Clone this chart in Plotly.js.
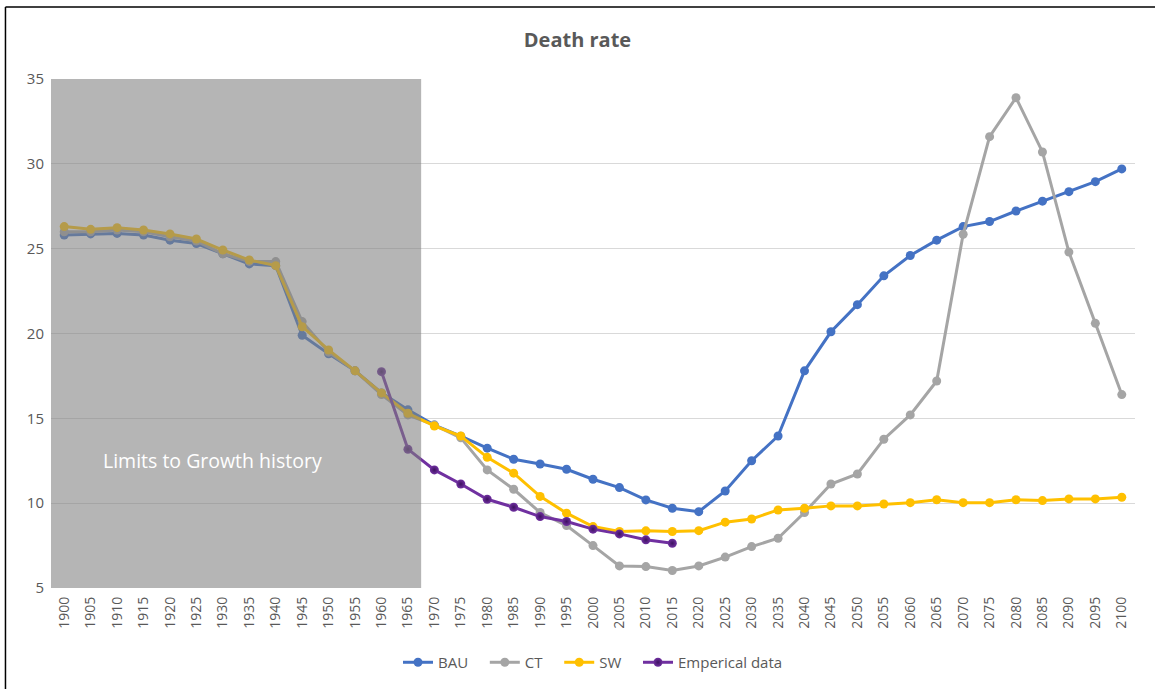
<!DOCTYPE html>
<html>
<head>
<meta charset="utf-8">
<script src="https://cdn.plot.ly/plotly-3.0.1.min.js"></script>
<style>html,body{margin:0;padding:0;background:#fff;}#chart{width:1155px;height:689px;}</style>
</head>
<body>
<div id="chart"></div>
<script>
var years = [];
for (var y = 1900; y <= 2100; y += 5) years.push(y);

var BAU = [25.8, 25.87, 25.9, 25.8, 25.5, 25.3, 24.7, 24.1, 24.0, 19.9, 18.8, 17.8, 16.5, 15.5,
  14.6, 13.95, 13.24, 12.59, 12.31, 12.0, 11.41, 10.92, 10.19, 9.7, 9.5,
  10.72, 12.5, 13.96, 17.8, 20.1, 21.7, 23.4, 24.6, 25.5, 26.3, 26.6, 27.22, 27.8, 28.36, 28.95, 29.7];
var CT = [26.0, 26.0, 26.1, 26.0, 25.7, 25.45, 24.7, 24.25, 24.24, 20.7, 18.9, 17.8, 16.4, 15.2,
  14.6, 13.85, 11.96, 10.82, 9.45, 8.68, 7.5, 6.3, 6.26, 6.03, 6.3,
  6.82, 7.44, 7.93, 9.45, 11.13, 11.72, 13.77, 15.2, 17.2, 25.85, 31.6, 33.9, 30.7, 24.8, 20.6, 16.4];
var SW = [26.3, 26.14, 26.24, 26.1, 25.87, 25.57, 24.92, 24.33, 24.0, 20.4, 19.03, 17.8, 16.5, 15.3,
  14.55, 13.96, 12.7, 11.77, 10.4, 9.41, 8.62, 8.33, 8.37, 8.33, 8.38,
  8.88, 9.07, 9.6, 9.7, 9.84, 9.84, 9.95, 10.03, 10.2, 10.03, 10.03, 10.2, 10.15, 10.25, 10.25, 10.35];
var empYears = [1960, 1965, 1970, 1975, 1980, 1985, 1990, 1995, 2000, 2005, 2010, 2015];
var EMP = [17.75, 13.18, 11.96, 11.13, 10.23, 9.76, 9.21, 8.92, 8.47, 8.19, 7.84, 7.64];

var historyStart = 1897.5, historyEnd = 1967.5;
var pad = '\u00a0\u00a0\u00a0';

function series(name, x, yv, color, extra) {
  var t = {
    type: 'scatter', mode: 'lines+markers', name: name, x: x, y: yv,
    line: {color: color, width: 3},
    marker: {color: color, size: 9}
  };
  if (extra) t.marker.gradient = extra;
  return t;
}

var data = [
  series('BAU' + pad, years, BAU, '#4472C4'),
  series('CT' + pad, years, CT, '#A5A5A5'),
  series('SW' + pad, years, SW, '#FFC000'),
  series('Emperical data', empYears, EMP, '#7030A0', {type: 'radial', color: '#3d1160'})
];

var font = 'Open Sans, Liberation Sans, Arial, sans-serif';
var layout = {
  width: 1155, height: 689,
  paper_bgcolor: '#ffffff', plot_bgcolor: '#ffffff',
  margin: {l: 51, r: 20, t: 79, b: 101, autoexpand: false},
  font: {family: font, color: '#595959', size: 13},
  title: {text: '<b>Death rate</b>', x: 0.5, xanchor: 'center', y: 0.942, yanchor: 'middle',
    font: {family: 'Open Sans, sans-serif', size: 20, color: '#595959'}},
  xaxis: {
    type: 'linear', range: [1897.5, 2102.5], tickmode: 'array', tickvals: years,
    ticktext: years.map(String), tickangle: -90, showgrid: false, zeroline: false,
    showline: false, ticks: '', ticklabelstandoff: 5, automargin: false,
    tickfont: {size: 14, color: '#595959', family: font}
  },
  yaxis: {
    range: [5, 35], dtick: 5, tick0: 5, showgrid: true, gridcolor: '#d9d9d9', gridwidth: 1,
    zeroline: false, showline: false, ticks: '', ticklabelstandoff: 6, automargin: false,
    tickfont: {size: 15, color: '#595959', family: font}
  },
  showlegend: true,
  legend: {orientation: 'h', x: 0.5, xanchor: 'center', y: -0.114, yanchor: 'top',
    font: {size: 15, color: '#595959', family: font}, traceorder: 'normal'},
  shapes: [
    {type: 'rect', xref: 'x', yref: 'y', x0: historyStart, x1: historyEnd, y0: 5, y1: 35,
      fillcolor: 'rgba(128,128,128,0.58)', line: {width: 0}, layer: 'above'},
    {type: 'line', xref: 'paper', yref: 'paper', x0: -0.042, x1: 1.02, y0: 1.1415, y1: 1.1415,
      line: {color: '#000000', width: 1.5}},
    {type: 'line', xref: 'paper', yref: 'paper', x0: -0.042, x1: -0.042, y0: 1.1415, y1: -0.2,
      line: {color: '#000000', width: 1.5}}
  ],
  annotations: [
    {x: 1928, y: 12.5, xref: 'x', yref: 'y', text: 'Limits to Growth history', showarrow: false,
      font: {size: 19.5, color: '#ffffff', family: 'Open Sans, sans-serif'}}
  ]
};

Plotly.newPlot('chart', data, layout, {displayModeBar: false, staticPlot: true});
</script>
</body>
</html>
